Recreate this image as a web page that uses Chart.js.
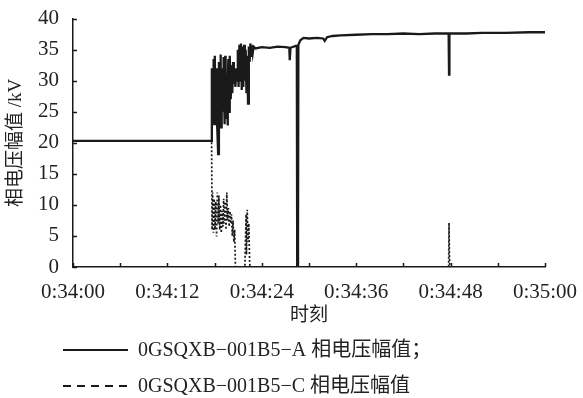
<!DOCTYPE html>
<html>
<head>
<meta charset="utf-8">
<title>相电压幅值</title>
<script src="https://cdn.jsdelivr.net/npm/chart.js@4"></script>
<style>
  body { margin: 0; background: #fff; }
  #wrap { width: 583px; height: 398px; }
</style>
</head>
<body>
<div id="wrap"><canvas id="voltChart" width="583" height="398"></canvas></div>
<script>
// seconds after 0:34:00
const aTime = [0, 17.6, 17.65, 17.7, 17.75, 17.8, 17.85, 17.9, 17.95, 18.0, 18.05, 18.1, 18.15, 18.2, 18.25, 18.3,
    18.35, 18.45, 18.55, 18.6, 18.65, 18.7, 18.75, 18.8, 18.85, 18.9, 18.95, 19.0, 19.05, 19.1, 19.15, 19.2,
    19.25, 19.3, 19.35, 19.4, 19.45, 19.5, 19.55, 19.6, 19.65, 19.7, 19.75, 19.8, 19.85, 19.9, 19.95, 20.0,
    20.05, 20.15, 20.25, 20.35, 20.45, 20.55, 20.65, 20.75, 20.85, 20.95, 21.05, 21.15, 21.25, 21.35, 21.45, 21.55,
    21.65, 21.75, 21.85, 21.95, 22.05, 22.15, 22.25, 22.35, 22.45, 22.55, 22.65, 22.75, 22.85, 22.95, 23.2, 24,
    25, 26, 27, 27.5, 27.55, 27.65, 28.3, 28.45, 28.5, 28.6, 28.65, 28.9, 29.3, 30, 31, 31.8, 32, 32.3, 33, 34,
    36, 38, 40, 42, 44, 46, 47.75, 47.8, 47.85, 50, 52, 55, 58, 60];
const aVolt = [20.3, 20.3, 32, 27, 25, 30, 33.5, 26, 23, 29, 34, 27, 26, 32, 31, 24,
    22, 18.2, 33, 28, 24, 30, 34.2, 26, 22.5, 29, 32, 27, 25, 30, 33.8, 28,
    23, 29, 34, 27, 24, 28, 31, 26, 22.8, 30, 33.5, 28, 25, 31, 34, 30,
    27, 32.5, 28, 33, 29.5, 31, 29, 32, 30, 35, 29, 35.8, 30, 36, 28.5, 35.5,
    29, 35.8, 30, 35, 28, 34, 26.3, 35.5, 33, 36, 34, 35.7, 34.5, 35.5, 35.2, 35.4,
    35.3, 35.5, 35.4, 35.3, 33.3, 35.3, 35.6, 35.6, 0, 0.5, 35.8, 36.5, 36.9, 36.8, 36.9, 36.8, 36.4, 37.0, 37.2, 37.3,
    37.4, 37.5, 37.5, 37.6, 37.5, 37.6, 37.6, 31, 37.6, 37.6, 37.7, 37.7, 37.8, 37.8];

const cTime = [0, 17.62, 17.68, 17.75, 17.85, 17.95, 18.05, 18.15, 18.25, 18.35, 18.45, 18.55, 18.65, 18.75, 18.85, 18.95,
    19.05, 19.15, 19.25, 19.35, 19.45, 19.55, 19.65, 19.75, 19.85, 19.95, 20.05, 20.15, 20.25, 20.35, 20.45, 20.55,
    20.6, 20.65, 21.85, 21.9, 22.0, 22.05, 22.15, 22.25, 22.35, 22.45, 22.5, 28.45, 28.5, 28.55, 28.6, 28.65,
    47.75, 47.8, 47.85, 47.9, 60];
const cVolt = [20.3, 20.3, 6, 12, 5.5, 11, 6, 10.5, 4.9, 12, 7, 11.5, 6, 10, 5.5, 9,
    6.5, 11, 7, 10.5, 6, 12, 7.5, 9.5, 6.5, 9, 7, 8.5, 5, 7.5, 4, 6,
    3, 0, 0, 3, 8.5, 2, 9.2, 4, 7, 1, 0, 0, 8, 2, 7.5, 0,
    0, 7.1, 2, 0, 0];

const xTickLabels = ['0:34:00', '0:34:12', '0:34:24', '0:34:36', '0:34:48', '0:35:00'];
const seriesNames = ['0GSQXB−001B5−A 相电压幅值；', '0GSQXB−001B5−C 相电压幅值'];

const ink = '#1a1a1a';
const tickFont = { family: '"Liberation Serif", "Times New Roman", serif', size: 21 };
const cjkFont = { family: '"Liberation Serif", "Noto Sans CJK SC", serif', size: 19 };

// inward tick marks + legend under the axis
const extras = {
    id: 'extras',
    afterDatasetsDraw(chart) {
        const ctx = chart.ctx;
        const x = chart.scales.x, y = chart.scales.y;
        const area = chart.chartArea;
        ctx.save();
        ctx.strokeStyle = ink;
        ctx.lineWidth = 1.5;
        ctx.beginPath();
        x.ticks.forEach(t => {
            const px = Math.round(x.getPixelForValue(t.value)) + 0.5;
            ctx.moveTo(px, area.bottom);
            ctx.lineTo(px, area.bottom - 4);
        });
        y.ticks.forEach(t => {
            const py = Math.round(y.getPixelForValue(t.value)) + 0.5;
            ctx.moveTo(area.left, py);
            ctx.lineTo(area.left + 4, py);
        });
        ctx.stroke();
        ctx.restore();
    },
    afterDraw(chart) {
        const ctx = chart.ctx;
        const rows = [350, 386];
        ctx.save();
        ctx.strokeStyle = ink;
        ctx.lineWidth = 2;
        rows.forEach((ry, i) => {
            ctx.setLineDash(i === 0 ? [] : [8, 6]);
            ctx.beginPath();
            ctx.moveTo(63, ry);
            ctx.lineTo(i === 0 ? 128 : 131, ry);
            ctx.stroke();
        });
        ctx.setLineDash([]);
        ctx.fillStyle = '#222';
        ctx.font = '20px "Liberation Serif", "Noto Sans CJK SC", serif';
        ctx.textBaseline = 'middle';
        rows.forEach((ry, i) => ctx.fillText(seriesNames[i], 138, ry + 1));
        ctx.restore();
    }
};

const ctx = document.getElementById('voltChart').getContext('2d');
new Chart(ctx, {
    type: 'line',
    data: {
        datasets: [{
            label: seriesNames[1],
            data: cTime.map((t, i) => ({ x: t, y: cVolt[i] })),
            borderColor: ink,
            borderWidth: 1.7,
            borderDash: [2, 2],
            pointRadius: 0,
            tension: 0
        }, {
            label: seriesNames[0],
            data: aTime.map((t, i) => ({ x: t, y: aVolt[i] })),
            borderColor: ink,
            borderWidth: 2.3,
            pointRadius: 0,
            tension: 0
        }]
    },
    plugins: [extras],
    options: {
        responsive: false,
        animation: false,
        layout: { padding: { left: 0, right: 38, top: 16, bottom: 0 } },
        plugins: { legend: { display: false }, tooltip: { enabled: false } },
        scales: {
            x: {
                type: 'linear',
                min: 0,
                max: 60,
                grid: { display: false },
                border: { display: true, color: ink, width: 1.5 },
                ticks: {
                    stepSize: 6,
                    autoSkip: false,
                    maxRotation: 0,
                    padding: 5,
                    color: '#222',
                    font: tickFont,
                    callback: v => (v % 12 === 0 ? xTickLabels[v / 12] : '')
                },
                title: { display: true, text: '时刻', color: '#222', font: cjkFont, padding: { top: 0, bottom: 71 } },
                afterFit: s => { s.height = 131; }
            },
            y: {
                min: 0,
                max: 40,
                grid: { display: false },
                border: { display: true, color: ink, width: 1.5 },
                ticks: { stepSize: 5, padding: 6, color: '#222', font: tickFont },
                title: { display: true, text: '相电压幅值 /kV', color: '#222', font: cjkFont, padding: { top: 5, bottom: 0 } },
                afterFit: s => { s.width = 73; }
            }
        }
    }
});
</script>
</body>
</html>
